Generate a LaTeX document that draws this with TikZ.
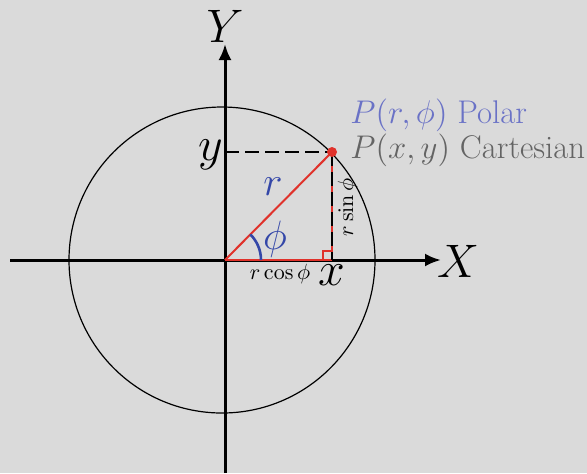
\documentclass[tikz,border=0pt]{standalone}
\usepackage{fix-cm}
\usepackage{amsmath,amssymb}
\usetikzlibrary{arrows.meta, positioning}
\definecolor{bggray}{HTML}{DADADA}
\definecolor{polarblue}{HTML}{6A72C6}
\definecolor{rblue}{HTML}{3447A8}
\definecolor{cartgray}{HTML}{646464}
\definecolor{segred}{HTML}{E0322B}

\begin{document}
\begin{tikzpicture}[
      x=0.5pt, y=-0.5pt,
      axisarr/.style={line width=1.5pt, -{Latex[length=8pt, width=6.5pt]}},
      redseg/.style={segred, line width=1pt},
      dashseg/.style={black, line width=1.3pt, dash pattern=on 7pt off 3pt},
      biglbl/.style={inner sep=0pt, font=\fontsize{23.5}{26}\selectfont},
      coordlbl/.style={inner sep=0pt, font=\fontsize{24}{27}\selectfont},
      symlbl/.style={inner sep=0pt, text=rblue, font=\fontsize{20.5}{24}\selectfont},
      smalllbl/.style={inner sep=0pt, font=\fontsize{11}{13}\selectfont},
      pointlbl/.style={inner sep=0pt, anchor=base west, font=\fontsize{16.4}{19}\selectfont}
    ]
    \fill[bggray] (0,0) rectangle (587,473);
    \useasboundingbox (0,0) rectangle (587,473);

    \coordinate (O) at (225,260);
    \coordinate (C) at (222,260);
    \coordinate (P) at (332,152);
    \coordinate (Q) at (332,260);
    \coordinate (Yp) at (225,152);
    \coordinate (xl) at (10,260);
    \coordinate (xr) at (441,260);
    \coordinate (yb) at (225,473);
    \coordinate (yt) at (225,44);

    % circle and axes
    \draw[line width=0.6pt] (C) circle[radius=153];
    \draw[axisarr] (xl) -- (xr);
    \draw[axisarr] (yb) -- (yt);
    \node[biglbl, anchor=base] (Ylab) at (225,42) {$Y$};
    \node[biglbl, anchor=base] (Xlab) at (458,277) {$X$};

    % triangle
    \draw[redseg] (O) -- (Q);
    \draw[redseg] (O) -- (P);
    \draw[redseg] (P) -- (Q);
    \draw[dashseg] (P) -- (Q);
    \draw[dashseg] (Yp) -- (P);
    \draw[segred, line width=0.6pt] (Q) ++(-9,0) -- ++(0,-9) -- ++(9,0);
    \draw[rblue, line width=1.3pt] (O) ++(36,0) arc[start angle=0, end angle=-45.3, radius=36];
    \fill[segred] (P) circle[radius=5];

    % labels
    \node[coordlbl, anchor=base] (ylab) at (211,160) {$y$};
    \node[coordlbl, anchor=base] (xlab) at (332,285) {$x$};
    \node[symlbl, anchor=base] (rlab) at (273,195) {$r$};
    \node[symlbl, anchor=base] (philab) at (275,249) {$\phi$};
    \node[smalllbl, anchor=base] (cos) at (280,279) {$r\cos\phi$};
    \node[smalllbl, anchor=base, rotate=90] (sin) at (353,207) {$r\sin\phi$};
    \node[pointlbl, text=polarblue] (polar) at (350,123) {$P(r,\phi)$ Polar};
    \node[pointlbl, text=cartgray] (cart) at (350,158) {$P(x,y)$ Cartesian};
  \end{tikzpicture}
\end{document}
